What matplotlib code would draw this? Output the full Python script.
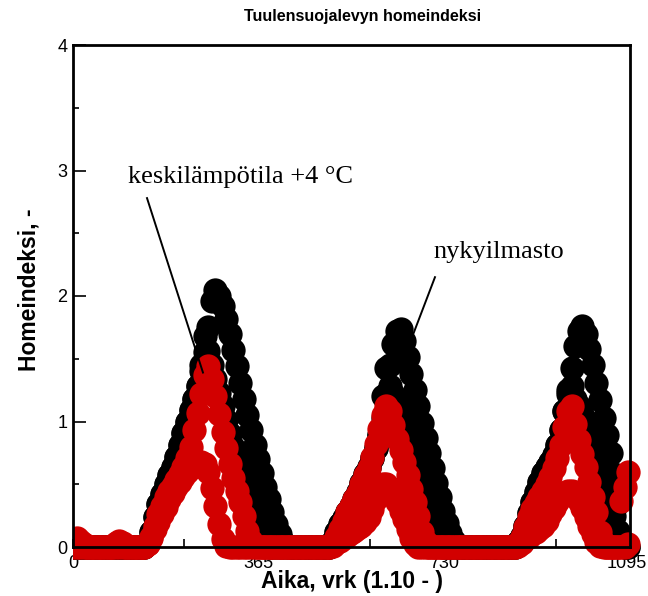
import numpy as np
import matplotlib
matplotlib.use("Agg")
import matplotlib.pyplot as plt
import matplotlib.transforms as mtransforms
from matplotlib.patches import Rectangle
from matplotlib.ticker import MultipleLocator

plt.rcParams['font.family'] = ['Liberation Sans', 'DejaVu Sans']

# weekly samples over three years (days 0 ... 1092)
days = np.arange(0, 1093, 7)

# mould index, present climate (two monitoring points)
nyky_a = [
    0, 0, 0, 0, 0, 0, 0, 0, 0, 0, 0, 0, 0,
    0, 0, 0, 0, 0, 0, 0, 0, 0.03, 0.12, 0.24, 0.34, 0.42,
    0.50, 0.57, 0.64, 0.72, 0.81, 0.91, 1.00, 1.09, 1.18, 1.28, 1.40, 1.55, 1.75,
    1.96, 2.05, 2.00, 1.92, 1.82, 1.70, 1.57, 1.44, 1.31, 1.18, 1.05, 0.93, 0.81,
    0.70, 0.59, 0.48, 0.38, 0.28, 0.18, 0.10, 0.04, 0.01, 0, 0, 0, 0,
    0, 0, 0, 0, 0, 0, 0, 0, 0.05, 0.12, 0.18, 0.23, 0.28,
    0.33, 0.38, 0.44, 0.51, 0.58, 0.64, 0.71, 0.79, 0.89, 1.03, 1.22, 1.45, 1.62,
    1.72, 1.74, 1.64, 1.51, 1.38, 1.25, 1.12, 0.99, 0.87, 0.75, 0.63, 0.51, 0.40,
    0.29, 0.19, 0.11, 0.05, 0.01, 0, 0, 0, 0, 0, 0, 0, 0,
    0, 0, 0, 0, 0, 0, 0, 0, 0.04, 0.09, 0.17, 0.27, 0.36,
    0.44, 0.52, 0.59, 0.64, 0.68, 0.73, 0.81, 0.93, 1.08, 1.25, 1.43, 1.60, 1.72,
    1.76, 1.70, 1.58, 1.45, 1.31, 1.17, 1.03, 0.89, 0.75, 0.58, 0.35, 0.03, 0,
    0,
]
nyky_b = [
    0, 0, 0, 0, 0, 0, 0, 0, 0, 0, 0, 0, 0,
    0, 0, 0, 0, 0, 0, 0, 0, 0.03, 0.12, 0.24, 0.34, 0.42,
    0.50, 0.57, 0.64, 0.72, 0.81, 0.91, 1.00, 1.09, 1.18, 1.28, 1.45, 1.68, 1.56,
    1.45, 1.34, 1.23, 1.12, 1.01, 0.90, 0.80, 0.70, 0.60, 0.50, 0.41, 0.32, 0.23,
    0.15, 0.08, 0.03, 0, 0, 0, 0, 0, 0, 0, 0, 0, 0,
    0, 0, 0, 0, 0, 0, 0, 0, 0.05, 0.12, 0.18, 0.23, 0.28,
    0.33, 0.38, 0.44, 0.51, 0.58, 0.64, 0.71, 0.79, 0.89, 1.20, 1.43, 1.28, 1.22,
    1.16, 1.08, 0.99, 0.90, 0.80, 0.69, 0.58, 0.47, 0.36, 0.26, 0.16, 0.08, 0.03,
    0, 0, 0, 0, 0, 0, 0, 0, 0, 0, 0, 0, 0,
    0, 0, 0, 0, 0, 0, 0, 0, 0.04, 0.09, 0.17, 0.27, 0.36,
    0.44, 0.52, 0.59, 0.64, 0.68, 0.73, 0.81, 0.93, 1.08, 1.22, 1.28, 1.18, 1.12,
    1.06, 0.99, 0.92, 0.84, 0.76, 0.67, 0.58, 0.48, 0.37, 0.25, 0.13, 0.04, 0,
    0,
]

# mould index, mean temperature +4 C
plus4_a = [
    0.05, 0.07, 0.05, 0.02, 0, 0, 0, 0, 0, 0, 0, 0, 0.03,
    0.05, 0.03, 0, 0, 0, 0, 0, 0, 0.02, 0.08, 0.17, 0.26, 0.33,
    0.40, 0.45, 0.49, 0.53, 0.58, 0.64, 0.71, 0.80, 0.93, 1.07, 1.22, 1.37, 1.44,
    1.34, 1.20, 1.06, 0.92, 0.79, 0.66, 0.55, 0.45, 0.36, 0.25, 0.13, 0.05, 0.01,
    0, 0, 0, 0, 0, 0, 0, 0, 0, 0, 0, 0, 0,
    0, 0, 0, 0, 0, 0, 0, 0, 0.03, 0.08, 0.14, 0.21, 0.28,
    0.33, 0.38, 0.43, 0.50, 0.57, 0.63, 0.72, 0.82, 0.94, 1.05, 1.12, 1.08, 0.97,
    0.86, 0.77, 0.68, 0.57, 0.46, 0.36, 0.25, 0.12, 0.04, 0, 0, 0, 0,
    0, 0, 0, 0, 0, 0, 0, 0, 0, 0, 0, 0, 0,
    0, 0, 0, 0, 0, 0, 0, 0, 0.03, 0.08, 0.16, 0.24, 0.30,
    0.35, 0.40, 0.45, 0.50, 0.56, 0.63, 0.71, 0.81, 0.96, 1.08, 1.12, 0.98, 0.85,
    0.74, 0.64, 0.52, 0.40, 0.28, 0.12, 0.03, 0, 0, 0, 0, 0.37, 0.48,
    0.60,
]
plus4_b = [
    0, 0, 0, 0, 0, 0, 0, 0, 0, 0, 0, 0, 0,
    0, 0, 0, 0, 0, 0, 0, 0, 0.02, 0.07, 0.14, 0.20, 0.26,
    0.32, 0.38, 0.43, 0.48, 0.52, 0.56, 0.60, 0.63, 0.65, 0.67, 0.68, 0.66, 0.60,
    0.47, 0.33, 0.18, 0.06, 0.01, 0, 0, 0, 0, 0, 0, 0, 0,
    0, 0, 0, 0, 0, 0, 0, 0, 0, 0, 0, 0, 0,
    0, 0, 0, 0, 0, 0, 0, 0, 0.01, 0.03, 0.05, 0.07, 0.09,
    0.11, 0.13, 0.15, 0.17, 0.20, 0.24, 0.30, 0.38, 0.46, 0.50, 0.50, 0.47, 0.42,
    0.36, 0.29, 0.22, 0.14, 0.07, 0.02, 0, 0, 0, 0, 0, 0, 0,
    0, 0, 0, 0, 0, 0, 0, 0, 0, 0, 0, 0, 0,
    0, 0, 0, 0, 0, 0, 0, 0, 0.01, 0.03, 0.06, 0.08, 0.10,
    0.12, 0.14, 0.17, 0.21, 0.26, 0.31, 0.36, 0.40, 0.43, 0.45, 0.45, 0.42, 0.37,
    0.31, 0.24, 0.17, 0.10, 0.04, 0.01, 0, 0, 0, 0, 0, 0, 0,
    0.02,
]

x_ticks = [0, 365, 730, 1095]
RED = '#d20000'

fig = plt.figure(figsize=(6.48, 5.96), dpi=100)
ax = fig.add_axes([73 / 648, 49 / 596, 557 / 648, 502 / 596])

# markers may spill past the right and bottom frame, not the left one
clip = Rectangle((0, -0.1), 1.1, 1.1, transform=ax.transAxes,
                 facecolor='none', edgecolor='none')

for vals, col in [(nyky_a, 'black'), (nyky_b, 'black'),
                  (plus4_a, RED), (plus4_b, RED)]:
    ln, = ax.plot(days, vals, 'o', color=col, ms=17.5, mew=0, zorder=2)
    ln.set_clip_path(clip)

# leader lines for the curve labels
ax.plot([145.5, 255.5], [2.78, 1.39], color='black', lw=1.4, zorder=3)
ax.plot([711.6, 666.4], [2.15, 1.67], color='black', lw=1.4, zorder=3)
serif = ['Liberation Serif', 'DejaVu Serif']
ax.text(108, 2.90, 'keskilämpötila +4 °C', family=serif, fontsize=19,
        ha='left', va='baseline')
ax.text(708, 2.30, 'nykyilmasto', family=serif, fontsize=19,
        ha='left', va='baseline')

ax.set_xlim(0, 1095)
ax.set_ylim(0, 4)
ax.set_xticks(x_ticks)
ax.xaxis.set_minor_locator(MultipleLocator(73))
ax.yaxis.set_major_locator(MultipleLocator(1))
ax.yaxis.set_minor_locator(MultipleLocator(0.5))
ax.tick_params(which='both', direction='in', top=False, right=False,
               width=1.2, labelsize=13)
ax.tick_params(axis='x', which='both', length=6, pad=6)
ax.tick_params(axis='y', which='major', length=9.5, pad=4)
ax.tick_params(axis='y', which='minor', length=4.5)
for sp in ax.spines.values():
    sp.set_linewidth(2.0)

# keep the last day label inside the canvas
last = ax.get_xticklabels()[-1]
last.set_transform(last.get_transform() +
                   mtransforms.ScaledTranslation(-3 / 100, 0, fig.dpi_scale_trans))

ax.set_xlabel('Aika, vrk (1.10 - )', fontsize=16.5, fontweight='bold')
ax.set_ylabel('Homeindeksi, -', fontsize=16.5, fontweight='bold')
ax.xaxis.set_label_coords(0.5, -0.046)
ax.yaxis.set_label_coords(-0.058, 0.512)

fig.text(363 / 648, 1 - 16 / 596, 'Tuulensuojalevyn homeindeksi',
         ha='center', va='center', fontsize=11.5, fontweight='bold')

fig.savefig('out.png', dpi=100)
